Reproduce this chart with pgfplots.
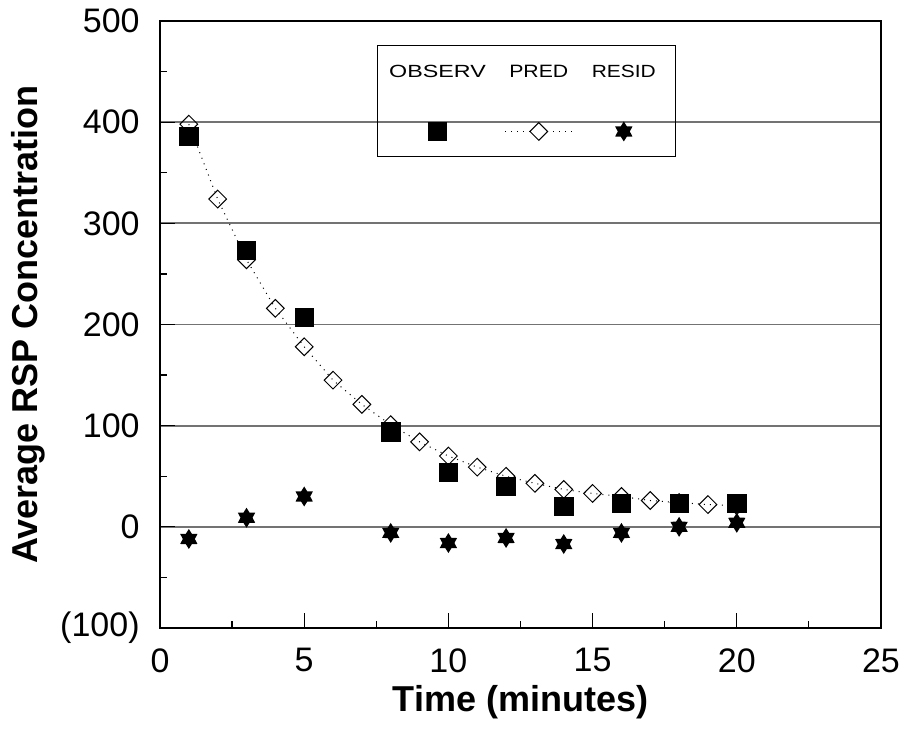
\documentclass[border=0pt]{standalone}
\usepackage{pgfplots}
\pgfplotsset{compat=1.18}
\usepackage{fontspec}
\setmainfont{Liberation Sans}
\usepackage{graphicx}

\pgfdeclareplotmark{hexstar}{%
  \pgfpathmoveto{\pgfpointpolar{90}{\pgfplotmarksize}}%
  \pgfpathlineto{\pgfpointpolar{120}{0.6\pgfplotmarksize}}%
  \pgfpathlineto{\pgfpointpolar{150}{\pgfplotmarksize}}%
  \pgfpathlineto{\pgfpointpolar{180}{0.6\pgfplotmarksize}}%
  \pgfpathlineto{\pgfpointpolar{210}{\pgfplotmarksize}}%
  \pgfpathlineto{\pgfpointpolar{240}{0.6\pgfplotmarksize}}%
  \pgfpathlineto{\pgfpointpolar{270}{\pgfplotmarksize}}%
  \pgfpathlineto{\pgfpointpolar{300}{0.6\pgfplotmarksize}}%
  \pgfpathlineto{\pgfpointpolar{330}{\pgfplotmarksize}}%
  \pgfpathlineto{\pgfpointpolar{0}{0.6\pgfplotmarksize}}%
  \pgfpathlineto{\pgfpointpolar{30}{\pgfplotmarksize}}%
  \pgfpathlineto{\pgfpointpolar{60}{0.6\pgfplotmarksize}}%
  \pgfpathclose
  \pgfusepathqfill
}

\pgfplotstableread{
x y
1 398
2 324
3 264
4 216
5 178
6 145
7 121
8 101
9 84
10 70
11 59
12 50
13 43
14 37
15 33
16 30
17 26
18 24
19 22
20 21
}\preddata

\pgfplotstableread{
x y
1 386
3 273
5 207
8 94
10 54
12 40
14 20
16 23
18 23
20 23
}\obsdata

\pgfplotstableread{
x y
1 -12
3 9
5 30
8 -6
10 -16
12 -11
14 -17
16 -6
18 0
20 4
}\resdata

\begin{document}
\begin{tikzpicture}
\begin{axis}[
  at={(0,0)}, anchor=south west,
  scale only axis, width=360.5pt, height=303.5pt,
  xmin=0, xmax=25, ymin=-100, ymax=500,
  xtick={0,5,...,25}, xticklabels={0,5,10,15,20,25},
  minor xtick={2.5,7.5,...,22.5},
  ytick={-100,0,...,500}, yticklabels={(100),0,100,200,300,400,500},
  minor ytick={-50,50,...,450},
  tick pos=left, tick align=inside,
  major tick length=7.5pt, minor tick length=3.5pt,
  ymajorgrids, major grid style={black!55, line width=0.85pt},
  axis line style={line width=0.75pt},
  tick style={black, line width=0.6pt},
  ticklabel style={font=\fontsize{17}{20}\selectfont},
  /pgf/number format/assume math mode=true,
  yticklabel style={inner sep=0pt, xshift=-10pt},
  xticklabel style={inner sep=0pt, yshift=-10pt},
  xlabel={Time (minutes)}, ylabel={Average RSP Concentration},
  label style={font=\fontsize{18}{21}\selectfont\bfseries},
  xlabel style={at={(axis description cs:0.5,-0.138)}, anchor=base},
  ylabel style={at={(axis description cs:-0.1702,0.5)}, anchor=base},
  legend columns=3,
  legend style={at={(0.301,0.9605)}, anchor=north west, draw=black, line width=0.5pt,
    fill=none, inner sep=0pt, nodes={inner sep=0pt, text depth=0pt, draw=none}},
]
\addlegendimage{legend image code/.code={
  \path[draw=none, fill=none] (-30pt,-12.5pt) rectangle (22pt,43pt);
  \node[draw=none, inner sep=0pt, text depth=0pt] at (0pt,30pt) {\resizebox{48.3pt}{6.15pt}{OBSERV}};
  \fill[black, draw=none] (-4.6pt,-4.6pt) rectangle (4.6pt,4.6pt);
}}
\addlegendentry{\hbox{}}
\addlegendimage{legend image code/.code={
  \path[draw=none, fill=none] (-25.5pt,-12.5pt) rectangle (22.5pt,43pt);
  \node[draw=none, inner sep=0pt, text depth=0pt] at (0pt,30pt) {\resizebox{29.5pt}{6.15pt}{PRED}};
  \draw[black, line width=0.5pt, dash pattern=on 0.5pt off 2.5pt] (-16.75pt,0pt) -- (16.75pt,0pt);
  \draw[black, line width=0.5pt, fill=white, rotate=45] (-3.13pt,-3.13pt) rectangle (3.13pt,3.13pt);
}}
\addlegendentry{\hbox{}}
\addlegendimage{only marks, mark=hexstar, mark size=5pt, black, legend image code/.code={
  \path[draw=none, fill=none] (-19pt,-12.5pt) rectangle (25pt,43pt);
  \node[draw=none, inner sep=0pt, text depth=0pt] at (0pt,30pt) {\resizebox{32pt}{6.15pt}{RESID}};
  \pgfuseplotmark{hexstar}
}}
\addlegendentry{\hbox{}}

\addplot[forget plot, black, line width=0.5pt, dash pattern=on 0.5pt off 2.5pt,
  mark=square, mark size=3.13pt, mark options={solid, rotate=45, line width=0.5pt}]
  table[x=x, y=y] {\preddata};
\addplot[forget plot, only marks, mark=square*, mark size=4.6pt, black, fill=black]
  table[x=x, y=y] {\obsdata};
\addplot[forget plot, only marks, mark=hexstar, mark size=5pt, black, fill=black]
  table[x=x, y=y] {\resdata};
\end{axis}
\pgfresetboundingbox
\useasboundingbox (-80pt,-50.5pt) rectangle (373pt,314pt);
\end{tikzpicture}
\end{document}
